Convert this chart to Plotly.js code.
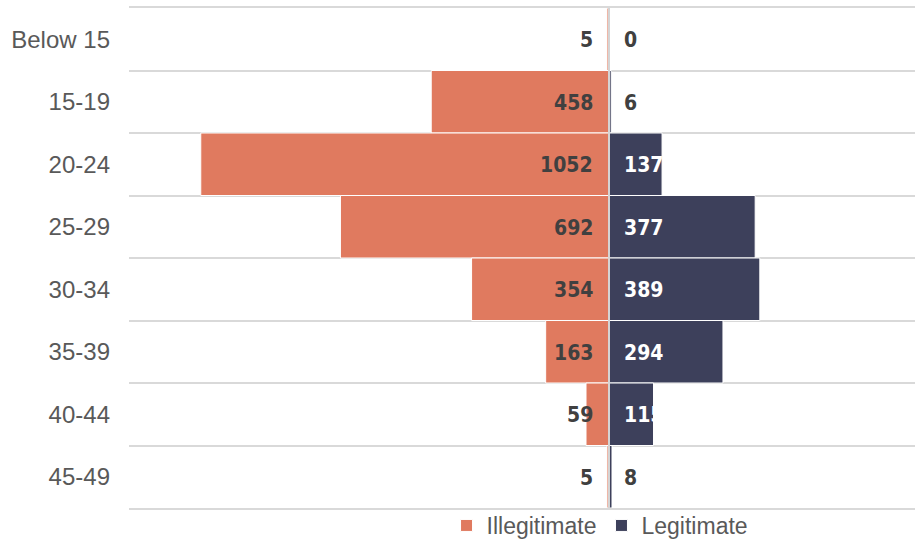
<!DOCTYPE html>
<html>
<head>
<meta charset="utf-8">
<script src="https://cdn.plot.ly/plotly-3.0.1.min.js"></script>
<style>html,body{margin:0;padding:0;background:#fff;}</style>
</head>
<body>
<div id="chart" style="width:915px;height:540px;"></div>
<script>
const categories = ["Below 15", "15-19", "20-24", "25-29", "30-34", "35-39", "40-44", "45-49"];
const illegitimate = [5, 458, 1052, 692, 354, 163, 59, 5];
const legitimate = [0, 6, 137, 377, 389, 294, 115, 8];
const seriesNames = ["Illegitimate", "Legitimate"];
const seriesColors = ["#E07A5F", "#3D405B"];

const labelFont = "'Liberation Sans Narrow', 'Arial Narrow', 'DejaVu Sans Condensed', sans-serif";
const mainFont = "'Liberation Sans', Arial, sans-serif";

const traces = [
  {
    type: "bar", orientation: "h", name: seriesNames[0],
    y: categories, x: illegitimate.map(v => -v),
    marker: {color: seriesColors[0], line: {color: "#ffffff", width: 1}},
    hoverinfo: "skip"
  },
  {
    type: "bar", orientation: "h", name: seriesNames[1],
    y: categories, x: legitimate,
    marker: {color: seriesColors[1], line: {color: "#ffffff", width: 1}},
    hoverinfo: "skip"
  }
];

const annotations = [];
illegitimate.forEach((v, i) => annotations.push({
  x: 0, y: categories[i], xref: "x", yref: "y", text: String(v),
  xanchor: "right", xshift: -14, yshift: -1, showarrow: false,
  font: {family: labelFont, size: 21, color: "#404040", weight: "bold"}
}));
legitimate.forEach((v, i) => annotations.push({
  x: 0, y: categories[i], xref: "x", yref: "y", text: String(v),
  xanchor: "left", xshift: 13, yshift: -1, showarrow: false,
  font: {family: labelFont, size: 21, color: v > 50 ? "#ffffff" : "#404040", weight: "bold"}
}));

const layout = {
  width: 915, height: 540,
  margin: {l: 129, r: 0, t: 8, b: 32, pad: 0, autoexpand: false},
  paper_bgcolor: "#ffffff", plot_bgcolor: "#ffffff",
  barmode: "relative", bargap: 0,
  showlegend: true,
  legend: {
    orientation: "h", x: 0.404, xanchor: "left", y: 0.008, yanchor: "top",
    bgcolor: "rgba(0,0,0,0)",
    font: {family: mainFont, size: 23, color: "#595959"},
    itemwidth: 30, traceorder: "normal"
  },
  xaxis: {
    range: [-1237, 789], showgrid: false, showticklabels: false, ticks: "",
    zeroline: true, zerolinecolor: "#d4d4d4", zerolinewidth: 2,
    zerolinelayer: "above traces",
    showline: true, mirror: true, linecolor: "#d9d9d9", linewidth: 2,
    fixedrange: true
  },
  yaxis: {
    type: "category", categoryorder: "array", categoryarray: categories,
    range: [7.5, -0.5], tickson: "boundaries", ticks: "",
    showgrid: true, gridcolor: "#d9d9d9", gridwidth: 2,
    zeroline: false, showline: false, ticklabelstandoff: 18,
    tickfont: {family: mainFont, size: 24, color: "#595959"}, fixedrange: true
  },
  annotations: annotations
};

Plotly.newPlot("chart", traces, layout, {displayModeBar: false, staticPlot: true});
</script>
</body>
</html>
